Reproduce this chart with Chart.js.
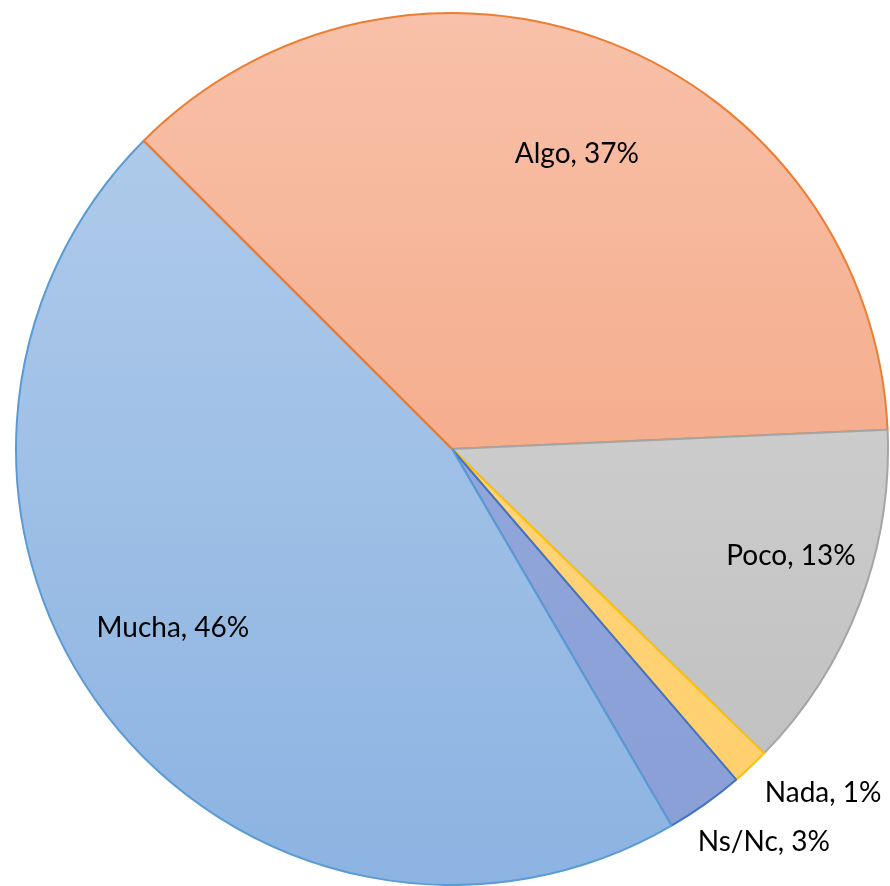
<!DOCTYPE html>
<html>
<head>
<meta charset="utf-8">
<script src="https://cdn.jsdelivr.net/npm/chart.js@4/dist/chart.umd.min.js"></script>
<style>
  html, body { margin: 0; padding: 0; background: #fff; }
  #wrap { width: 890px; height: 886px; }
</style>
</head>
<body>
<div id="wrap"><canvas id="chart"></canvas></div>
<script>
// data
var categories = ['Algo', 'Poco', 'Nada', 'Ns/Nc', 'Mucha'];
var values = [36.8, 13.0, 1.4, 2.9, 45.9];
var percentLabels = ['37%', '13%', '1%', '3%', '46%'];

// look of each slice: [top colour, bottom colour], border
var fillTop = ['#F8C1A9', '#DADADA', '#FFD88A', '#9AAEDD', '#B4CEEB'];
var fillBottom = ['#F29A73', '#BDBDBD', '#FFCF6A', '#889ED6', '#8CB3E2'];
var borders = ['#ED7D31', '#A5A5A5', '#FFC000', '#4472C4', '#5B9BD5'];

// label placement: fraction of radius, angle tweak in degrees
var labelRadius = [0.735, 0.815, 1.16, 1.15, 0.76];
var labelTurn = [1.7, -3.4, -4, -3, 5];

// one linear gradient per slice, top to bottom over the whole pie
function sliceFill(ctx) {
  var i = ctx.dataIndex;
  var chart = ctx.chart, area = chart.chartArea;
  if (!area) return fillTop[i];
  var g = chart.ctx.createLinearGradient(0, area.top, 0, area.bottom);
  g.addColorStop(0, fillTop[i]);
  g.addColorStop(1, fillBottom[i]);
  return g;
}

var sliceLabels = {
  id: 'sliceLabels',
  afterDatasetsDraw: function(chart) {
    var ctx = chart.ctx;
    var meta = chart.getDatasetMeta(0);
    ctx.save();
    // first slice's leading edge sits on top in the original
    var first = meta.data[0];
    ctx.strokeStyle = borders[0];
    ctx.lineWidth = 2;
    ctx.beginPath();
    ctx.moveTo(first.x, first.y);
    ctx.lineTo(first.x + Math.cos(first.startAngle) * first.outerRadius,
               first.y + Math.sin(first.startAngle) * first.outerRadius);
    ctx.stroke();

    ctx.font = '28px Lato, "Open Sans", sans-serif';
    ctx.fillStyle = '#000';
    ctx.textAlign = 'center';
    ctx.textBaseline = 'middle';
    meta.data.forEach(function(arc, i) {
      var mid = (arc.startAngle + arc.endAngle) / 2 + labelTurn[i] * Math.PI / 180;
      var r = arc.outerRadius * labelRadius[i];
      var x = arc.x + Math.cos(mid) * r;
      var y = arc.y + Math.sin(mid) * r;
      ctx.fillText(categories[i] + ', ' + percentLabels[i], x, y);
    });
    ctx.restore();
  }
};

new Chart(document.getElementById('chart'), {
  type: 'pie',
  data: {
    labels: categories,
    datasets: [{
      data: values,
      backgroundColor: sliceFill,
      borderColor: borders,
      borderWidth: 2,
      borderAlign: 'center'
    }]
  },
  options: {
    responsive: true,
    maintainAspectRatio: false,
    animation: false,
    rotation: -45,
    layout: { padding: { left: 14, top: 12, right: 0, bottom: 0 } },
    plugins: {
      legend: { display: false },
      tooltip: { enabled: false }
    }
  },
  plugins: [sliceLabels]
});
</script>
</body>
</html>
